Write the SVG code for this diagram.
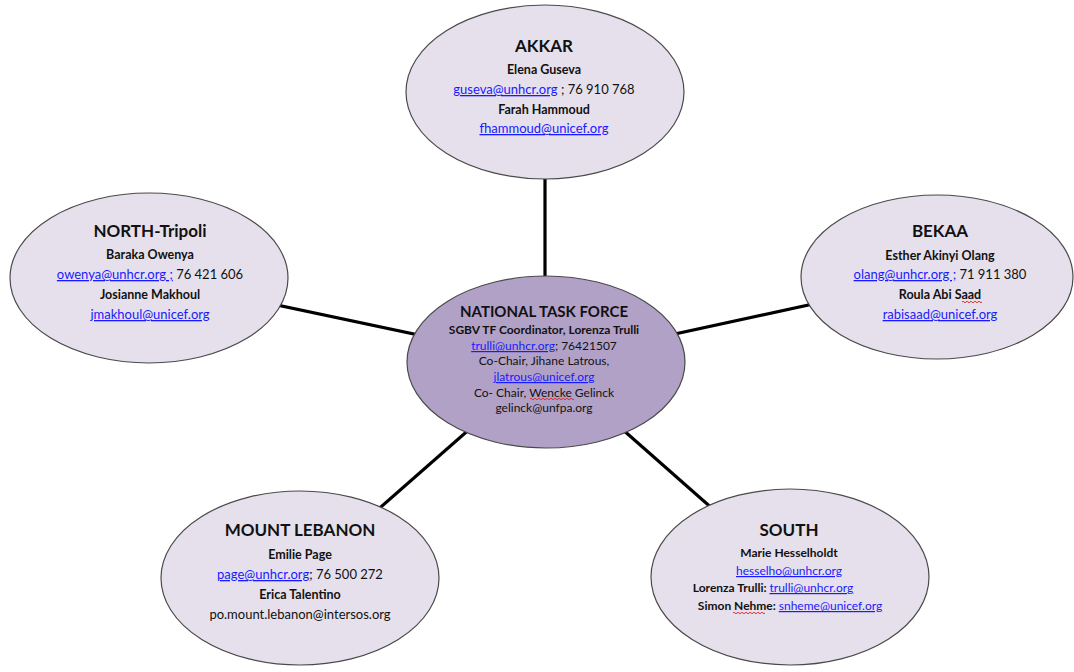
<svg xmlns="http://www.w3.org/2000/svg" width="1074" height="672" viewBox="0 0 1074 672">
<style>
.bg{fill:#ffffff}
.node{fill:#E5E0EC;stroke:#4a4a4a;stroke-width:1.2}
.hub{fill:#B2A1C7;stroke:#4a4a4a;stroke-width:1.2}
.conn{stroke:#000;stroke-width:3.2;fill:none}
text{font-family:Lato,"Noto Sans","Liberation Sans",sans-serif;fill:#111;text-anchor:middle}
.t{font-size:17px;font-weight:bold}
.b{font-size:12.5px;font-weight:bold}
.r{font-size:13px}
.l{fill:#1a1aff;text-decoration:underline}
.hb{font-size:12px;font-weight:bold}
.hr{font-size:12px}
.sq{stroke:#e02020;stroke-width:0.9;fill:none}
</style>
<rect class="bg" x="0" y="0" width="1074" height="672"/>
<g id="connectors">
<line class="conn" x1="545" y1="92" x2="545" y2="362"/>
<line class="conn" x1="149" y1="278" x2="546" y2="362"/>
<line class="conn" x1="937" y1="277" x2="546" y2="362"/>
<line class="conn" x1="300" y1="578" x2="546" y2="362"/>
<line class="conn" x1="790" y1="577" x2="546" y2="362"/>
</g>
<g id="akkar">
<ellipse class="node" cx="545" cy="92" rx="139" ry="87"/>
<text class="t" x="544" y="52">AKKAR</text>
<text class="b" x="544" y="74">Elena Guseva</text>
<text class="r" x="544" y="94"><tspan class="l">guseva@unhcr.org</tspan> ; 76 910 768</text>
<text class="b" x="544" y="114">Farah Hammoud</text>
<text class="r" x="544" y="133"><tspan class="l">fhammoud@unicef.org</tspan></text>
</g>
<g id="north">
<ellipse class="node" cx="149" cy="278" rx="139" ry="85"/>
<text class="t" x="150" y="237">NORTH-Tripoli</text>
<text class="b" x="150" y="259">Baraka Owenya</text>
<text class="r" x="150" y="279"><tspan class="l">owenya@unhcr.org ;</tspan> 76 421 606</text>
<text class="b" x="150" y="299">Josianne Makhoul</text>
<text class="r" x="150" y="319"><tspan class="l">jmakhoul@unicef.org</tspan></text>
</g>
<g id="bekaa">
<ellipse class="node" cx="937" cy="277" rx="136" ry="82"/>
<text class="t" x="940" y="237">BEKAA</text>
<text class="b" x="940" y="260">Esther Akinyi Olang</text>
<text class="r" x="940" y="279"><tspan class="l">olang@unhcr.org ;</tspan> 71 911 380</text>
<text class="b" x="940" y="299">Roula Abi Saad</text>
<path class="sq" d="M962 302 q1 -1.5 2 0 t2 0 t2 0 t2 0 t2 0 t2 0 t2 0 t2 0 t2 0 t2 0"/>
<text class="r" x="940" y="319"><tspan class="l">rabisaad@unicef.org</tspan></text>
</g>
<g id="national-task-force">
<ellipse class="hub" cx="546" cy="362" rx="139" ry="86"/>
<text class="t" style="font-size:15px" x="544" y="317">NATIONAL TASK FORCE</text>
<text class="hb" x="544" y="334">SGBV TF Coordinator, Lorenza Trulli</text>
<text class="hr" x="544" y="350"><tspan class="l">trulli@unhcr.org</tspan>; 76421507</text>
<text class="hr" x="544" y="365">Co-Chair, Jihane Latrous,</text>
<text class="hr" x="544" y="381"><tspan class="l">jlatrous@unicef.org</tspan></text>
<text class="hr" x="544" y="397">Co- Chair, Wencke Gelinck</text>
<path class="sq" d="M530 399 q1 -1.5 2 0 t2 0 t2 0 t2 0 t2 0 t2 0 t2 0 t2 0 t2 0 t2 0 t2 0 t2 0 t2 0 t2 0 t2 0 t2 0 t2 0 t2 0 t2 0 t2 0 t2 0 t2 0"/>
<text class="hr" x="544" y="412">gelinck@unfpa.org</text>
</g>
<g id="mount-lebanon">
<ellipse class="node" cx="300" cy="578" rx="139" ry="87"/>
<text class="t" x="300" y="536">MOUNT LEBANON</text>
<text class="b" x="300" y="559">Emilie Page</text>
<text class="r" x="300" y="579"><tspan class="l">page@unhcr.org</tspan>; 76 500 272</text>
<text class="b" x="300" y="599">Erica Talentino</text>
<text class="r" x="300" y="619">po.mount.lebanon@intersos.org</text>
</g>
<g id="south">
<ellipse class="node" cx="790" cy="577" rx="139" ry="88"/>
<text class="t" x="789" y="536">SOUTH</text>
<text class="hb" x="789" y="557">Marie Hesselholdt</text>
<text class="hr" x="789" y="575"><tspan class="l">hesselho@unhcr.org</tspan></text>
<text class="hb" x="773" y="592">Lorenza Trulli: <tspan class="l" style="font-weight:normal">trulli@unhcr.org</tspan></text>
<text class="hb" x="790" y="610">Simon Nehme: <tspan class="l" style="font-weight:normal">snheme@unicef.org</tspan></text>
<path class="sq" d="M733 613 q1 -1.5 2 0 t2 0 t2 0 t2 0 t2 0 t2 0 t2 0 t2 0 t2 0 t2 0 t2 0 t2 0 t2 0 t2 0 t2 0 t2 0"/>
</g>
</svg>
